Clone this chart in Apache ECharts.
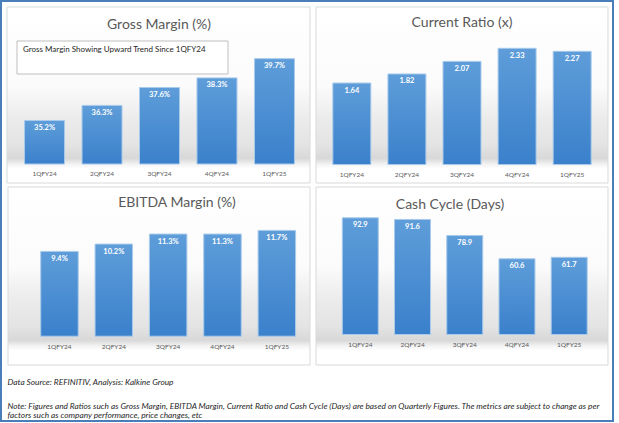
<!DOCTYPE html>
<html>
<head>
<meta charset="utf-8">
<script src="https://cdn.jsdelivr.net/npm/echarts@6/dist/echarts.min.js"></script>
<style>
html,body{margin:0;padding:0;background:#fff;}
#c{width:619px;height:423px;}
</style>
</head>
<body>
<div id="c"></div>
<script>
var categories = ['1QFY24', '2QFY24', '3QFY24', '4QFY24', '1QFY25'];
var grossMargin = [35.2, 36.3, 37.6, 38.3, 39.7];
var currentRatio = [1.64, 1.82, 2.07, 2.33, 2.27];
var ebitdaMargin = [9.4, 10.2, 11.3, 11.3, 11.7];
var cashCycle = [92.9, 91.6, 78.9, 60.6, 61.7];
var titles = ['Gross Margin (%)', 'Current Ratio (x)', 'EBITDA Margin (%)', 'Cash Cycle (Days)'];
var noteBox = 'Gross Margin Showing Upward Trend Since 1QFY24';
var sourceText = 'Data Source: REFINITIV, Analysis: Kalkine Group';
var noteLine1 = 'Note: Figures and Ratios such as Gross Margin, EBITDA Margin, Current Ratio and Cash Cycle (Days) are based on Quarterly Figures. The metrics are subject to change as per';
var noteLine2 = 'factors such as company performance, price changes, etc';

var FONT = 'Lato';
var chart = echarts.init(document.getElementById('c'), null, {renderer: 'svg'});

function barGrad() {
  return new echarts.graphic.LinearGradient(0, 0, 0, 1, [
    {offset: 0, color: '#5E9DD9'},
    {offset: 1, color: '#3A80CB'}
  ]);
}
function bgGrad() {
  return new echarts.graphic.LinearGradient(0, 0, 0, 1, [
    {offset: 0, color: '#ffffff'},
    {offset: 0.45, color: '#fbfbfb'},
    {offset: 0.64, color: '#ebebeb'},
    {offset: 0.78, color: '#e4e4e4'},
    {offset: 0.86, color: '#d8d8d8'},
    {offset: 0.895, color: '#f4f4f4'},
    {offset: 0.92, color: '#ffffff'},
    {offset: 1, color: '#ffffff'}
  ]);
}

var panels = [
  {x: 7, y: 7, w: 303, h: 176},
  {x: 316, y: 7, w: 292, h: 176},
  {x: 8, y: 187, w: 302, h: 178},
  {x: 316, y: 187, w: 292, h: 178}
];
var titlePos = [[159, 23], [462, 21], [177, 201.5], [450, 203.5]];

var grids = [
  {left: 15.8, top: 54, width: 287.4, height: 110},
  {left: 324.3, top: 39.25, width: 275.4, height: 125.75},
  {left: 32.3, top: 208.9, width: 271.7, height: 127.8},
  {left: 334.2, top: 208.3, width: 261.1, height: 126.7}
];
var yRange = [[32, 40], [0, 2.5], [0, 14], [0, 100]];
var barW = [41, 39, 38.5, 37];
var seriesData = [grossMargin, currentRatio, ebitdaMargin, cashCycle];
var fmts = [
  function (p) { return p.value.toFixed(1) + '%'; },
  function (p) { return p.value.toFixed(2); },
  function (p) { return p.value.toFixed(1) + '%'; },
  function (p) { return p.value.toFixed(1); }
];

var graphic = [];
graphic.push({type: 'rect', z: -20, shape: {x: 1, y: 1, width: 612, height: 420},
  style: {fill: '#ffffff', stroke: '#4A7EBB', lineWidth: 2}});
panels.forEach(function (p) {
  graphic.push({type: 'rect', z: -10, shape: {x: p.x, y: p.y, width: p.w, height: p.h},
    style: {fill: bgGrad(), stroke: '#d9d9d9', lineWidth: 1}});
});
titles.forEach(function (t, i) {
  graphic.push({type: 'text', z: 5, x: titlePos[i][0], y: titlePos[i][1],
    style: {text: t, fill: '#595959', font: '14px ' + FONT, textAlign: 'center', textVerticalAlign: 'middle'}});
});
graphic.push({type: 'rect', z: 5, shape: {x: 17, y: 41, width: 211, height: 33},
  style: {fill: '#ffffff', stroke: '#bfbfbf', lineWidth: 1}});
graphic.push({type: 'text', z: 6, x: 23, y: 48.5,
  style: {text: noteBox, fill: '#262626', font: '8px ' + FONT, textAlign: 'left', textVerticalAlign: 'middle'}});
graphic.push({type: 'text', z: 6, x: 7.5, y: 382,
  style: {text: sourceText, fill: '#262626', font: 'italic 8.3px ' + FONT, textAlign: 'left', textVerticalAlign: 'middle'}});
graphic.push({type: 'text', z: 6, x: 7.5, y: 405.5,
  style: {text: noteLine1, fill: '#262626', font: 'italic 8.3px ' + FONT, textAlign: 'left', textVerticalAlign: 'middle'}});
graphic.push({type: 'text', z: 6, x: 7.5, y: 414.5,
  style: {text: noteLine2, fill: '#262626', font: 'italic 8.3px ' + FONT, textAlign: 'left', textVerticalAlign: 'middle'}});

var option = {
  animation: false,
  backgroundColor: '#ffffff',
  graphic: graphic,
  grid: grids.map(function (g) { return Object.assign({containLabel: false}, g); }),
  xAxis: grids.map(function (g, i) {
    return {
      type: 'category', gridIndex: i, data: categories,
      axisLine: {show: false}, axisTick: {show: false}, splitLine: {show: false},
      axisLabel: {color: '#595959', fontSize: 6.5, fontFamily: FONT, margin: 6}
    };
  }),
  yAxis: grids.map(function (g, i) {
    return {
      type: 'value', gridIndex: i, min: yRange[i][0], max: yRange[i][1],
      show: false, splitLine: {show: false}
    };
  }),
  series: seriesData.map(function (d, i) {
    return {
      type: 'bar', xAxisIndex: i, yAxisIndex: i, data: d, barWidth: barW[i], z: 3,
      itemStyle: {color: barGrad(), borderColor: '#A9CBEB', borderWidth: 1},
      label: {show: true, position: 'insideTop', distance: 3.5, color: '#ffffff',
        fontSize: 7.5, fontWeight: 'bold', fontFamily: FONT, formatter: fmts[i]}
    };
  })
};
chart.setOption(option);
</script>
</body>
</html>
